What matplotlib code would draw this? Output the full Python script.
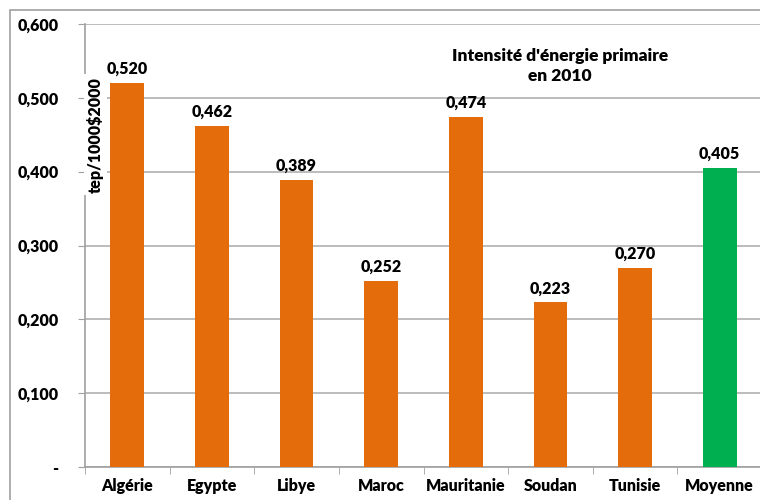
import matplotlib.pyplot as plt
from matplotlib.patches import Rectangle
from matplotlib.ticker import FixedLocator

plt.rcParams['font.family'] = ['Lato', 'DejaVu Sans']

# Data
pays = ['Algérie', 'Egypte', 'Libye', 'Maroc', 'Mauritanie', 'Soudan', 'Tunisie', 'Moyenne']
intensite = [0.520, 0.462, 0.389, 0.252, 0.474, 0.223, 0.270, 0.405]
couleurs = ['#E46C0A'] * 7 + ['#00B050']
yticks = [0, 0.1, 0.2, 0.3, 0.4, 0.5, 0.6]
ytick_labels = ['-', '0,100', '0,200', '0,300', '0,400', '0,500', '0,600']

fig = plt.figure(figsize=(7.6, 5), dpi=100)
ax = fig.add_axes([85/760, 33/500, 677/760, 443/500])

# outer chart frame
fig.patches.append(Rectangle((10/760, -0.1), 1.2, 490/500 + 0.1, transform=fig.transFigure,
                             fill=False, edgecolor='#A0A0A0', linewidth=1.2, zorder=0))

x = range(len(pays))
ax.bar(x, intensite, width=0.4, color=couleurs, zorder=3)

for i, v in enumerate(intensite):
    ax.text(i, v + 0.008, f'{v:.3f}'.replace('.', ','), ha='center', va='bottom',
            fontsize=11.5, fontweight='heavy')

ax.set_xlim(-0.5, len(pays) - 0.5)
ax.set_ylim(0, 0.6)
ax.set_yticks(yticks)
ax.set_yticklabels(ytick_labels, fontsize=11.5, fontweight='heavy')
ax.set_xticks(list(x))
ax.set_xticklabels(pays, fontsize=11.5, fontweight='heavy')
ax.xaxis.set_minor_locator(FixedLocator([i - 0.5 for i in range(len(pays) + 1)]))
ax.tick_params(axis='x', which='major', length=0, pad=8)
ax.tick_params(axis='x', which='minor', length=5, color='#A0A0A0')
ax.tick_params(axis='y', length=5, color='#A0A0A0', pad=14)

ax.grid(axis='y', color='#B0B0B0', linewidth=1.2, zorder=0)
for s in ['top', 'right']:
    ax.spines[s].set_visible(False)
ax.spines['left'].set_color('#A0A0A0')
ax.spines['bottom'].set_color('#A0A0A0')
ax.spines['left'].set_linewidth(1.2)
ax.spines['bottom'].set_linewidth(1.2)

ax.text(0.0155, 0.75, 'tep/1000$2000', transform=ax.transAxes, rotation=90,
        ha='center', va='center', fontsize=11.5, fontweight='heavy',
        bbox=dict(facecolor='white', edgecolor='none', pad=2), zorder=4)

ax.text(0.701, 0.905, "Intensité d'énergie primaire\nen 2010", transform=ax.transAxes,
        ha='center', va='center', fontsize=12.5, fontweight='heavy', linespacing=1.35,
        bbox=dict(facecolor='white', edgecolor='none', pad=3), zorder=4)

fig.savefig('out.png', dpi=100)
